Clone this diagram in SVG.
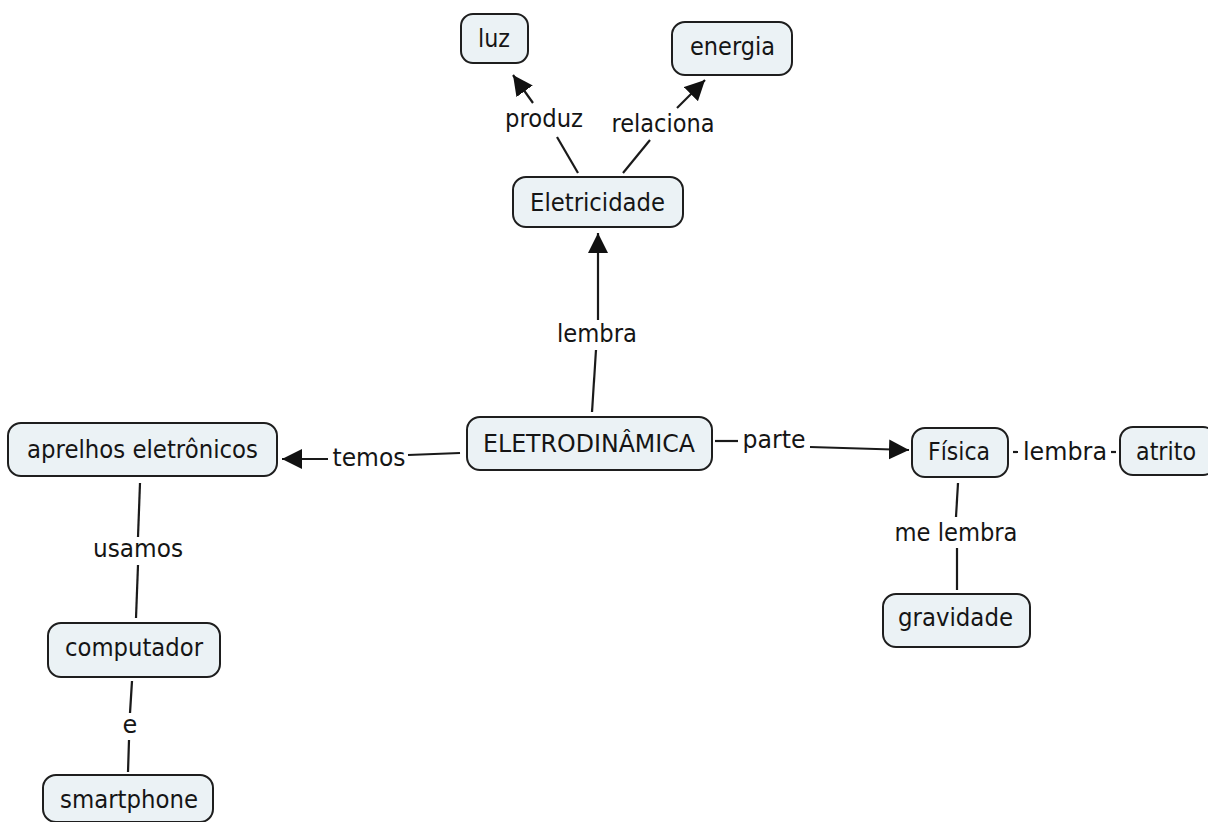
<svg xmlns="http://www.w3.org/2000/svg" width="1208" height="822" viewBox="0 0 1208 822">
  <style>
    .box { fill: #ebf2f5; stroke: #1e1e1e; stroke-width: 2; }
    .lbl { font-family: "DejaVu Sans", Verdana, sans-serif; font-size: 24px; fill: #151515; text-anchor: middle; }
    .ln { stroke: #1a1a1a; stroke-width: 2.2; fill: none; }
  </style>
  <defs>
    <marker id="arrow" markerUnits="userSpaceOnUse" markerWidth="22" markerHeight="22" refX="20" refY="10" orient="auto">
      <path d="M0,0 L20,10 L0,20 z" fill="#111"/>
    </marker>
  </defs>
  <rect width="1208" height="822" fill="#ffffff"/>

  <!-- connectors and linking phrases -->
  <g id="connectors">
    <!-- ELETRODINÂMICA -> Eletricidade -->
    <line class="ln" x1="592" y1="412" x2="596" y2="350"/>
    <line class="ln" x1="598" y1="320" x2="598" y2="233" marker-end="url(#arrow)"/>
    <text class="lbl" x="597" y="342" textLength="80" lengthAdjust="spacingAndGlyphs">lembra</text>

    <!-- ELETRODINÂMICA -> aprelhos eletrônicos -->
    <line class="ln" x1="460" y1="453" x2="408" y2="455"/>
    <line class="ln" x1="328" y1="459" x2="282" y2="459" marker-end="url(#arrow)"/>
    <text class="lbl" x="369" y="466" textLength="73" lengthAdjust="spacingAndGlyphs">temos</text>

    <!-- ELETRODINÂMICA -> Física -->
    <line class="ln" x1="715" y1="441" x2="738" y2="441"/>
    <line class="ln" x1="810" y1="447" x2="909" y2="450" marker-end="url(#arrow)"/>
    <text class="lbl" x="774" y="448" textLength="63" lengthAdjust="spacingAndGlyphs">parte</text>

    <!-- Eletricidade -> luz -->
    <line class="ln" x1="578" y1="173" x2="557" y2="137"/>
    <line class="ln" x1="533" y1="103" x2="513" y2="75" marker-end="url(#arrow)"/>
    <text class="lbl" x="544" y="127" textLength="78" lengthAdjust="spacingAndGlyphs">produz</text>

    <!-- Eletricidade -> energia -->
    <line class="ln" x1="623" y1="173" x2="650" y2="140"/>
    <line class="ln" x1="677" y1="108" x2="705" y2="80" marker-end="url(#arrow)"/>
    <text class="lbl" x="663" y="132" textLength="103" lengthAdjust="spacingAndGlyphs">relaciona</text>

    <!-- Física - atrito -->
    <line class="ln" x1="1013" y1="452" x2="1018" y2="452"/>
    <line class="ln" x1="1111" y1="452" x2="1116" y2="452"/>
    <text class="lbl" x="1065" y="460" textLength="84" lengthAdjust="spacingAndGlyphs">lembra</text>

    <!-- Física - gravidade -->
    <line class="ln" x1="958" y1="483" x2="956" y2="517"/>
    <line class="ln" x1="957" y1="548" x2="957" y2="590"/>
    <text class="lbl" x="956" y="541" textLength="123" lengthAdjust="spacingAndGlyphs">me lembra</text>

    <!-- aprelhos eletrônicos - computador -->
    <line class="ln" x1="140" y1="483" x2="138" y2="537"/>
    <line class="ln" x1="138" y1="565" x2="136" y2="618"/>
    <text class="lbl" x="138" y="557" textLength="90" lengthAdjust="spacingAndGlyphs">usamos</text>

    <!-- computador - smartphone -->
    <line class="ln" x1="132" y1="681" x2="130" y2="713"/>
    <line class="ln" x1="129" y1="740" x2="128" y2="772"/>
    <text class="lbl" x="130" y="733">e</text>
  </g>

  <!-- concepts -->
  <g id="eletrodinamica">
    <rect class="box" x="467" y="417" width="245" height="53" rx="13"/>
    <text class="lbl" x="589" y="452" textLength="212" lengthAdjust="spacingAndGlyphs">ELETRODINÂMICA</text>
  </g>
  <g id="eletricidade">
    <rect class="box" x="513" y="177" width="170" height="50" rx="13"/>
    <text class="lbl" x="597.5" y="211" textLength="135" lengthAdjust="spacingAndGlyphs">Eletricidade</text>
  </g>
  <g id="luz">
    <rect class="box" x="461" y="14" width="67" height="49" rx="12"/>
    <text class="lbl" x="494" y="47" textLength="32" lengthAdjust="spacingAndGlyphs">luz</text>
  </g>
  <g id="energia">
    <rect class="box" x="672" y="22" width="120" height="53" rx="13"/>
    <text class="lbl" x="732.5" y="55" textLength="85" lengthAdjust="spacingAndGlyphs">energia</text>
  </g>
  <g id="aprelhos">
    <rect class="box" x="8" y="423" width="269" height="53" rx="13"/>
    <text class="lbl" x="142.5" y="458" textLength="231" lengthAdjust="spacingAndGlyphs">aprelhos eletrônicos</text>
  </g>
  <g id="fisica">
    <rect class="box" x="912" y="428" width="96" height="49" rx="13"/>
    <text class="lbl" x="959" y="460" textLength="62" lengthAdjust="spacingAndGlyphs">Física</text>
  </g>
  <g id="atrito">
    <rect class="box" x="1120" y="427" width="96" height="48" rx="13"/>
    <text class="lbl" x="1166" y="460" textLength="60" lengthAdjust="spacingAndGlyphs">atrito</text>
  </g>
  <g id="gravidade">
    <rect class="box" x="883" y="594" width="147" height="53" rx="13"/>
    <text class="lbl" x="955.5" y="626" textLength="115" lengthAdjust="spacingAndGlyphs">gravidade</text>
  </g>
  <g id="computador">
    <rect class="box" x="48" y="623" width="172" height="54" rx="13"/>
    <text class="lbl" x="134" y="656" textLength="138" lengthAdjust="spacingAndGlyphs">computador</text>
  </g>
  <g id="smartphone">
    <rect class="box" x="43" y="775" width="170" height="47" rx="13"/>
    <text class="lbl" x="129" y="808" textLength="138" lengthAdjust="spacingAndGlyphs">smartphone</text>
  </g>
</svg>
